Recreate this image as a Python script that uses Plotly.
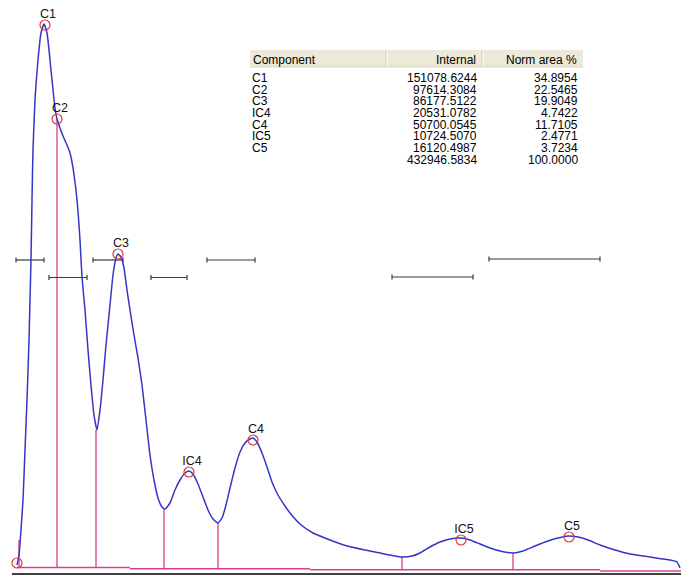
import numpy as np
import plotly.graph_objects as go

# ---- chromatogram trace (time units, intensity units) ----
time = [17, 19, 21, 23, 25, 27, 29, 30, 31, 32, 33, 35, 38, 41, 44, 47, 51, 55, 57, 60,
        63, 67, 70, 73, 77, 80, 82, 85, 88, 91, 94, 97, 100, 103, 106, 110, 113, 116, 118,
        121, 124, 127, 130, 134, 138, 142, 146, 150, 154, 158, 162, 165, 170, 175, 180,
        185, 189, 193, 198, 203, 208, 213, 218, 222, 226, 230, 235, 240, 245, 250, 253,
        257, 262, 267, 272, 278, 285, 290, 300, 313, 330, 347, 365, 380, 395, 402, 412,
        420, 430, 440, 450, 461, 470, 480, 490, 500, 513, 523, 535, 548, 558, 568, 578,
        588, 600, 615, 630, 650, 670, 677, 680]
signal = [12, 22, 47, 77, 127, 177, 237, 277, 317, 377, 427, 477, 517, 544, 553, 544, 507,
          469, 458, 449, 441, 432, 424, 409, 377, 337, 300, 267, 227, 192, 162, 147, 167,
          197, 232, 272, 302, 319, 323, 320, 309, 287, 267, 242, 219, 192, 157, 122, 97,
          79, 70, 68, 74, 87, 97, 104, 106, 103, 93, 80, 67, 58, 54, 59, 72, 89, 109, 125,
          134, 138, 139, 135, 124, 110, 95, 82, 71, 64, 53, 44, 37, 31, 27, 24, 21, 20, 21,
          24, 30, 35, 38, 39, 37, 33, 29, 26, 24, 26, 31, 36, 39, 41, 40, 37, 32, 27, 23,
          20, 17, 15, 9]

# ---- peaks ----
peak_names = ["C1", "C2", "C3", "IC4", "C4", "IC5", "C5"]
peak_time = [45, 57, 118, 189, 253, 461, 569]
peak_signal = [552, 458, 323, 105, 137, 37, 40]
start_time, start_signal = 17, 14

# ---- integration boundaries (drop lines) ----
drop_time = [19, 57, 96, 164, 218, 402, 513]
drop_top = [37, 458, 147, 68, 54, 20, 24]
drop_bottom = [9.5, 9.5, 9.5, 8.2, 8.2, 7.2, 7.2]

# ---- baseline segments ----
base_start = [17, 130, 310, 600]
base_end = [130, 310, 600, 681]
base_level = [9.5, 8.2, 7.2, 6.0]

# ---- window bars ----
bar_start = [16, 49, 93, 151, 207, 392, 489]
bar_end = [44, 87, 123, 187, 255, 473, 600]
bar_level = [317, 299.5, 317, 299.5, 317, 300, 318]

# ---- results table ----
tbl_component = ["C1", "C2", "C3", "IC4", "C4", "IC5", "C5", ""]
tbl_internal = ["151078.6244", "97614.3084", "86177.5122", "20531.0782", "50700.0545",
                "10724.5070", "16120.4987", "432946.5834"]
tbl_norm = ["34.8954", "22.5465", "19.9049", "4.7422", "11.7105", "2.4771", "3.7234",
            "100.0000"]
tbl_headers = ["Component", "Internal", "Norm area %"]

BLUE = "#3535c8"
MAG = "#d8408e"
RED = "#e03a3a"
FONT = "Liberation Sans, Arial, sans-serif"

fig = go.Figure()

# axis line at bottom
fig.add_trace(go.Scatter(x=[12, 681], y=[3, 3], mode="lines",
                         line=dict(color="black", width=1.5), hoverinfo="skip"))

# baseline
bx, by = [], []
for s, e, l in zip(base_start, base_end, base_level):
    bx += [s, e, None]
    by += [l, l, None]
fig.add_trace(go.Scatter(x=bx, y=by, mode="lines", line=dict(color=MAG, width=1.5),
                         hoverinfo="skip"))

# drop lines
dx, dy = [], []
for t, top, bot in zip(drop_time, drop_top, drop_bottom):
    dx += [t, t, None]
    dy += [bot, top, None]
fig.add_trace(go.Scatter(x=dx, y=dy, mode="lines", line=dict(color=MAG, width=1.3),
                         hoverinfo="skip"))

# window bars with end ticks
wx, wy = [], []
for s, e, l in zip(bar_start, bar_end, bar_level):
    wx += [s, e, None, s, s, None, e, e, None]
    wy += [l, l, None, l - 2.5, l + 2.5, None, l - 2.5, l + 2.5, None]
fig.add_trace(go.Scatter(x=wx, y=wy, mode="lines", line=dict(color="#3a3a3a", width=1.2),
                         hoverinfo="skip"))

# chromatogram
fig.add_trace(go.Scatter(x=time, y=signal, mode="lines",
                         line=dict(color=BLUE, width=1.5, shape="spline", smoothing=0.5)))

# peak markers
fig.add_trace(go.Scatter(x=peak_time + [start_time], y=peak_signal + [start_signal],
                         mode="markers",
                         marker=dict(symbol="circle-open", size=10,
                                     line=dict(color=RED, width=1.2), color=RED)))

# peak labels
fig.add_trace(go.Scatter(x=[t + 3 for t in peak_time], y=[s + 10 for s in peak_signal],
                         mode="text", text=peak_names, textposition="middle center",
                         textfont=dict(family=FONT, size=12.5, color="#111111")))

# table header
fig.add_shape(type="rect", x0=250, x1=583, y0=510, y1=527, xref="x", yref="y",
              fillcolor="#ece9d8", line=dict(width=0), layer="below")
for xs, col in [(386, "#cbc7b8"), (387, "#ffffff"), (482, "#cbc7b8"), (483, "#ffffff")]:
    fig.add_shape(type="line", x0=xs, x1=xs, y0=511, y1=526, xref="x", yref="y",
                  line=dict(color=col, width=1))
fig.add_shape(type="line", x0=250, x1=583, y0=510, y1=510, xref="x", yref="y",
              line=dict(color="#d8d4c4", width=1))

header_y = 517.5
fig.add_annotation(x=251, y=header_y, text=tbl_headers[0], xanchor="left", showarrow=False,
                   font=dict(family=FONT, size=12, color="black"), xref="x", yref="y")
fig.add_annotation(x=478, y=header_y, text=tbl_headers[1], xanchor="right", showarrow=False,
                   font=dict(family=FONT, size=12, color="black"), xref="x", yref="y")
fig.add_annotation(x=579, y=header_y, text=tbl_headers[2], xanchor="right", showarrow=False,
                   font=dict(family=FONT, size=12, color="black"), xref="x", yref="y")

row_y0, row_step = 499, 11.65
for i, (c, v, n) in enumerate(zip(tbl_component, tbl_internal, tbl_norm)):
    y = row_y0 - i * row_step
    if c:
        fig.add_annotation(x=251, y=y, text=c, xanchor="left", showarrow=False,
                           borderpad=0, font=dict(family=FONT, size=12, color="black"))
    fig.add_annotation(x=478, y=y, text=v, xanchor="right", showarrow=False,
                       borderpad=0, font=dict(family=FONT, size=12, color="black"))
    fig.add_annotation(x=579, y=y, text=n, xanchor="right", showarrow=False,
                       borderpad=0, font=dict(family=FONT, size=12, color="black"))

fig.update_layout(
    width=681, height=577,
    margin=dict(l=0, r=0, t=0, b=0),
    paper_bgcolor="white", plot_bgcolor="white",
    showlegend=False,
    xaxis=dict(range=[0, 681], visible=False, fixedrange=True),
    yaxis=dict(range=[0, 577], visible=False, fixedrange=True),
)

fig.write_html("out.html", config={"displayModeBar": False},
               post_script="document.body.style.margin='0px';document.body.style.overflow='hidden';")
